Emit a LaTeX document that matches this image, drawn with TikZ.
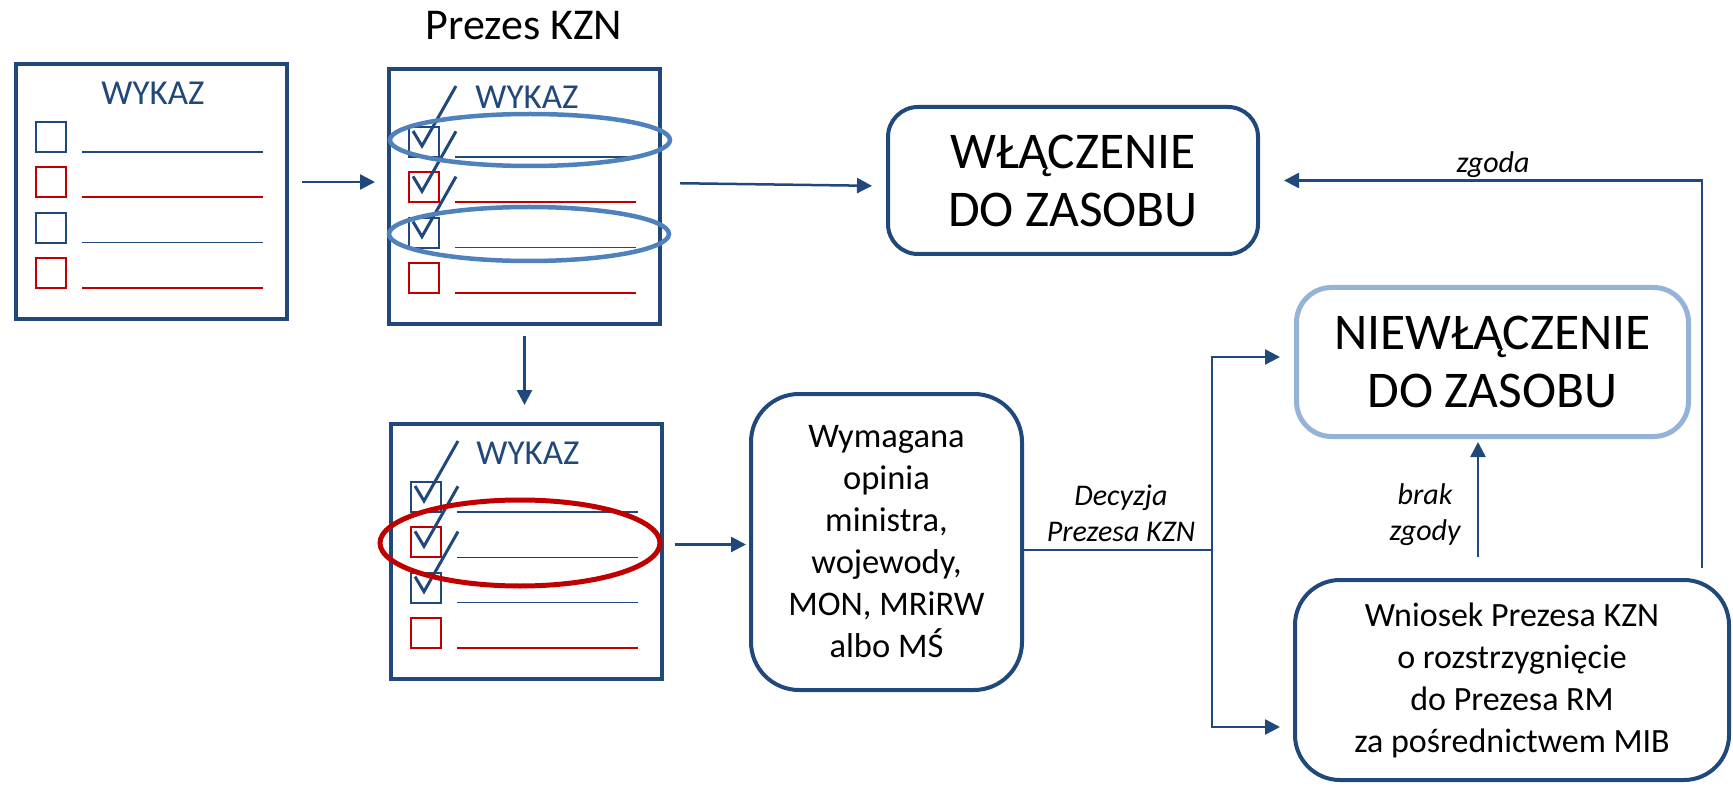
\documentclass[tikz,border=0pt]{standalone}
\usepackage{fontspec}
\setmainfont{Carlito}
\usetikzlibrary{arrows.meta}
\definecolor{dblue}{RGB}{33,72,122}
\definecolor{eblue}{RGB}{79,129,189}
\definecolor{lblue}{RGB}{149,179,215}
\definecolor{dred}{RGB}{192,0,0}
\tikzset{
 frame/.style={draw=dblue, line width=4pt, minimum width=271pt, minimum height=255pt, inner sep=0pt, anchor=north west},
 cbox/.style={line width=2pt},
 rowline/.style={line width=1.6pt},
 tick/.style={draw=dblue, line width=3pt},
 wk/.style={text=dblue, font=\fontsize{35}{42}\selectfont, inner sep=0pt},
 oval/.style={draw=eblue, line width=4.5pt},
 redoval/.style={draw=dred, line width=5pt},
 stepbox/.style={draw=dblue, line width=4pt, rounded corners=30pt, align=center, inner sep=0pt},
 arr/.style={draw=dblue, line width=2.5pt, -{Triangle[length=15pt,width=15pt]}},
 conn/.style={draw=dblue, line width=2.5pt},
 lbl/.style={font=\itshape\fontsize{30}{36}\selectfont, align=center, inner sep=0pt},
}
\newcommand{\wklist}{%
  \foreach \t/\c in {62/dblue,107.3/dred,152.6/dblue,198/dred}{
    \draw[cbox,draw=\c] (24,\t) rectangle (54,{\t+30});
    \draw[rowline,draw=\c] (70,{\t+30}) -- (251,{\t+30});
  }}
\newcommand{\wkchecks}{%
  \foreach \t in {62,107.3,152.6}{
    \draw[tick] (28,{\t+4}) -- (37,{\t+19}) -- (71,{\t-41});
  }}
\begin{document}
\begin{tikzpicture}[x=1pt,y=-1pt]
\useasboundingbox[fill=white] (0,0) rectangle (1733,786);

% box 1
\begin{scope}[shift={(12,60)}]
  \node[frame] (b1) at (2,2) {};
  \node[wk] (t1) at (141,33) {WYKAZ};
  \wklist
\end{scope}

% box 2
\begin{scope}[shift={(385,65)}]
  \node[frame] (b2) at (2,2) {};
  \node[wk] (t2) at (142,32) {WYKAZ};
  \wklist
  \wkchecks
  \draw[oval] (145,75) ellipse [x radius=140pt, y radius=26pt];
  \draw[oval] (144,169) ellipse [x radius=140pt, y radius=27pt];
\end{scope}

% box 3
\begin{scope}[shift={(387,420)}]
  \node[frame] (b3) at (2,2) {};
  \node[wk] (t3) at (141,33) {WYKAZ};
  \wklist
  \wkchecks
  \draw[redoval] (133,123) ellipse [x radius=140pt, y radius=43pt];
\end{scope}

\node[inner sep=0pt, font=\fontsize{44}{50}\selectfont] (pk) at (524,26) {Prezes KZN};

\node[stepbox, minimum width=370pt, minimum height=147pt, font=\fontsize{51.5}{58}\selectfont] (w) at (1073,180.5) {WŁĄCZENIE\\DO ZASOBU};
\node[stepbox, draw=lblue, line width=5pt, rounded corners=35pt, minimum width=392pt, minimum height=149pt, font=\fontsize{51.5}{58}\selectfont] (nw) at (1492.5,362) {NIEWŁĄCZENIE\\DO ZASOBU};
\node[stepbox, rounded corners=48pt, minimum width=271pt, minimum height=296pt, font=\fontsize{34.5}{42}\selectfont] (op) at (886.5,542) {Wymagana\\opinia\\ministra,\\wojewody,\\MON, MRiRW\\albo MŚ};
\node[stepbox, rounded corners=45pt, minimum width=434pt, minimum height=200pt, font=\fontsize{34}{42}\selectfont] (wn) at (1512,680) {Wniosek Prezesa KZN\\o rozstrzygnięcie\\do Prezesa RM\\za pośrednictwem MIB};

\coordinate (a1) at (0,182);
\coordinate (j) at (1212,550);
\coordinate (jt) at (1212,357);
\coordinate (jb) at (1212,727);

\draw[arr, shorten <=13pt, shorten >=12pt] (b1.east |- a1) -- (b2.west |- a1);
\draw[arr, shorten <=18pt, shorten >=14pt] ([yshift=13.5pt]b2.east) -- ([yshift=-5.5pt]w.west);
\draw[arr, shorten <=10pt, shorten >=17pt] (b2.south) -- (b2.south |- b3.north);
\draw[arr, shorten <=11pt, shorten >=3pt] ([yshift=7pt]b3.east) -- ([yshift=7pt]b3.east -| op.west);
\draw[conn] ([yshift=-8pt]op.east) -- (j);
\draw[arr, shorten >=14pt] (j) -- (jt) -- (jt -| nw.west);
\draw[arr, shorten >=13pt] (j) -- (jb) -- (jb -| wn.west);
\draw[arr, shorten <=21pt, shorten >=3pt] ([xshift=-34pt]wn.north) -- ([xshift=-34pt]wn.north |- nw.south);
\draw[arr, shorten <=10pt, shorten >=24pt] ([xshift=190pt]wn.north) |- (w.east);

\node[lbl] (l1) at (1121,513) {Decyzja\\Prezesa KZN};
\node[lbl] (l2) at (1425,515) {brak\\zgody};
\node[lbl, anchor=base] (l3) at (1493,173) {zgoda};
\end{tikzpicture}
\end{document}
